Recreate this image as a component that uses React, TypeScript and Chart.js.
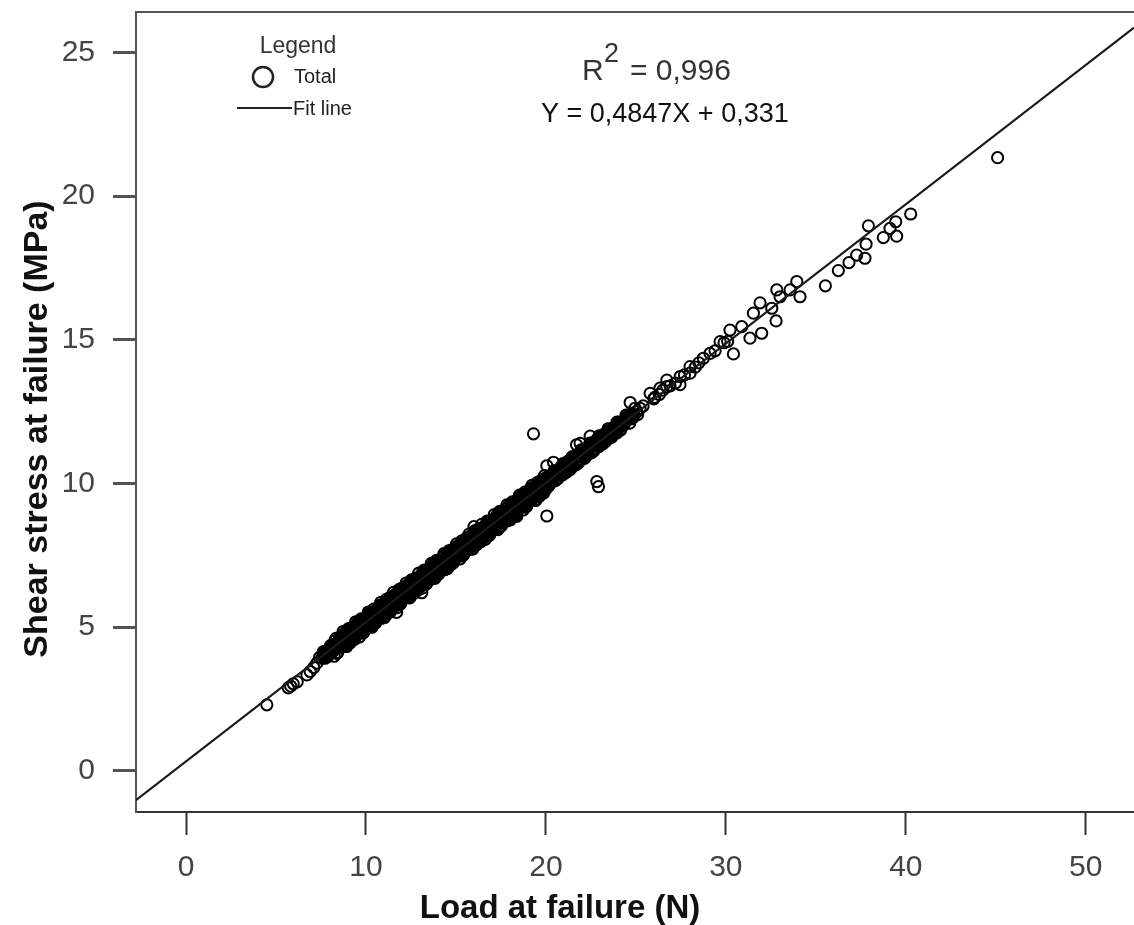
import React, { useEffect, useRef } from "react";
import { Chart, registerables } from "chart.js";

Chart.register(...registerables);

// ---- data ----
const xTicks = [0, 10, 20, 30, 40, 50];
const yTicks = [0, 5, 10, 15, 20, 25];
const xRange = [-2.78, 52.68];
const yRange = [-1.43, 26.41];

// fit line end points (Y = 0,4847X + 0,331)
const fitLoad = [-2.78, 52.68];
const fitStress = [-1.017, 25.865];

const xAxisTitle = "Load at failure (N)";
const yAxisTitle = "Shear stress at failure (MPa)";
const legendTitle = "Legend";
const legendLabels = ["Total", "Fit line"];
const rSquaredValue = "= 0,996";
const equationText = "Y = 0,4847X + 0,331";

// observed points: [load (N), shear stress (MPa)]
const totalPoints: [number, number][] = [
  [4.49, 2.3], [5.68, 2.89], [5.82, 2.95], [5.96, 3.03], [6.18, 3.1],
  [6.72, 3.34], [6.9, 3.46], [7.1, 3.6], [7.27, 3.75],
  [7.42, 3.95], [7.55, 3.92], [7.68, 4.08], [7.75, 4.0], [7.85, 4.05], [7.92, 4.2],
  [8.02, 4.17], [8.08, 4.3], [8.15, 4.15], [8.22, 4.4], [8.28, 4.24], [8.35, 4.33],
  [8.42, 4.31], [8.48, 4.5], [8.55, 4.43], [8.62, 4.58], [8.68, 4.42], [8.75, 4.52],
  [8.82, 4.7], [8.88, 4.55], [8.95, 4.63], [9.02, 4.62], [9.08, 4.8], [9.15, 4.7],
  [9.22, 4.88], [9.28, 4.72], [9.35, 4.83], [9.42, 4.78], [9.48, 4.98], [9.55, 4.9],
  [9.62, 5.07], [9.68, 4.9], [9.75, 5.02], [9.82, 4.98], [9.88, 5.18], [9.95, 5.1],
  [10.02, 5.26], [10.08, 5.08], [10.15, 5.2], [10.22, 5.17], [10.28, 5.36], [10.35, 5.29],
  [10.42, 5.46], [10.48, 5.28], [10.55, 5.4], [10.62, 5.36], [10.68, 5.56], [10.75, 5.48],
  [10.82, 5.65], [10.88, 5.47], [10.95, 5.6], [11.02, 5.56], [11.08, 5.76], [11.15, 5.68],
  [11.22, 5.85], [11.28, 5.66], [11.35, 5.8], [11.42, 5.75], [11.48, 5.95], [11.55, 5.88],
  [11.62, 6.04], [11.68, 5.86], [11.7, 5.52], [11.75, 5.99], [11.82, 5.95], [11.88, 6.15],
  [11.95, 6.07], [12.02, 6.24], [12.08, 6.05], [12.15, 6.18], [12.22, 6.14], [12.28, 6.34],
  [12.35, 6.27], [12.42, 6.43], [12.48, 6.25], [12.55, 6.38], [12.62, 6.33], [12.68, 6.53],
  [12.75, 6.46], [12.82, 6.62], [12.88, 6.44], [12.95, 6.57], [13.1, 6.2],
  [13.02, 6.53], [13.08, 6.73], [13.15, 6.66], [13.22, 6.82], [13.28, 6.63], [13.35, 6.76],
  [13.42, 6.72], [13.48, 6.93], [13.55, 6.85], [13.62, 7.02], [13.68, 6.83], [13.75, 6.96],
  [13.82, 6.92], [13.88, 7.12], [13.95, 7.04], [14.02, 7.21], [14.08, 7.02], [14.15, 7.15],
  [14.22, 7.11], [14.28, 7.31], [14.35, 7.24], [14.42, 7.4], [14.48, 7.22], [14.55, 7.34],
  [14.62, 7.3], [14.68, 7.5], [14.75, 7.43], [14.82, 7.59], [14.88, 7.41], [14.95, 7.54],
  [15.02, 7.5], [15.08, 7.7], [15.15, 7.63], [15.22, 7.79], [15.28, 7.6], [15.35, 7.73],
  [15.42, 7.69], [15.48, 7.9], [15.55, 7.82], [15.62, 7.98], [15.68, 7.8], [15.75, 7.93],
  [15.82, 7.89], [15.88, 8.09], [15.95, 8.01], [16.0, 8.5], [16.02, 8.17], [16.1, 7.98],
  [16.22, 8.28], [16.3, 8.1], [16.42, 8.2], [16.5, 8.38], [16.62, 8.46], [16.7, 8.3],
  [16.82, 8.4], [16.9, 8.57], [17.02, 8.66], [17.1, 8.5], [17.22, 8.6], [17.3, 8.77],
  [17.42, 8.85], [17.5, 8.69], [17.62, 8.8], [17.7, 8.96], [17.82, 9.05], [17.9, 8.88],
  [18.02, 8.98], [18.1, 9.16], [18.22, 9.25], [18.3, 9.09], [18.38, 8.86], [18.42, 9.18],
  [18.5, 9.35], [18.62, 9.44], [18.7, 9.28], [18.82, 9.38], [18.9, 9.54], [19.02, 9.63],
  [19.1, 9.48], [19.22, 9.58], [19.3, 9.74], [19.31, 11.73], [19.42, 9.82], [19.5, 9.67],
  [19.62, 9.76], [19.7, 9.93], [19.82, 10.02], [19.9, 9.86], [20.02, 9.95], [20.05, 8.87],
  [20.05, 10.62], [20.1, 10.12], [20.22, 10.22], [20.3, 10.05], [20.42, 10.74], [20.5, 10.3],
  [20.62, 10.25], [20.7, 10.4], [20.85, 10.5], [20.9, 10.35], [21.05, 10.45], [21.1, 10.6],
  [21.25, 10.68], [21.3, 10.55], [21.45, 10.78], [21.5, 10.64], [21.65, 10.75], [21.7, 11.35],
  [21.85, 10.95], [21.9, 11.4], [21.9, 10.82], [22.05, 11.08], [22.1, 10.92], [22.25, 11.15],
  [22.3, 11.02], [22.45, 11.26], [22.46, 11.65], [22.65, 11.35], [22.7, 11.22], [22.83, 10.07],
  [22.85, 11.45], [22.92, 9.89], [23.05, 11.42], [23.1, 11.56], [23.25, 11.64], [23.45, 11.62],
  [23.5, 11.75], [23.65, 11.84], [23.85, 11.8], [23.9, 11.95], [24.05, 12.04], [24.25, 12.0],
  [24.3, 12.14], [24.45, 12.22], [24.6, 12.28], [24.68, 12.82], [24.85, 12.4], [25.05, 12.5],
  [25.1, 12.4], [25.4, 12.7], [25.79, 13.14], [26.0, 12.95], [26.05, 13.0], [26.3, 13.1],
  [26.34, 13.32], [26.5, 13.25], [26.72, 13.37], [26.72, 13.6], [26.9, 13.4], [27.2, 13.5],
  [27.45, 13.44], [27.46, 13.72], [27.7, 13.78], [28.01, 14.07], [28.01, 13.84], [28.3, 14.05],
  [28.5, 14.2], [28.75, 14.36], [29.12, 14.53], [29.4, 14.62], [29.68, 14.94], [29.9, 14.9],
  [30.1, 14.95], [30.23, 15.34], [30.42, 14.51], [30.88, 15.46], [31.34, 15.06], [31.53, 15.93],
  [31.9, 16.29], [31.99, 15.23], [32.55, 16.1], [32.79, 15.66], [32.83, 16.74], [33.01, 16.5],
  [33.57, 16.74], [33.94, 17.03], [34.12, 16.5], [35.53, 16.88], [36.25, 17.41], [36.84, 17.69],
  [37.27, 17.95], [37.73, 17.84], [37.79, 18.33], [37.92, 18.97], [38.75, 18.56], [39.12, 18.88],
  [39.44, 19.11], [39.49, 18.61], [40.27, 19.38], [45.1, 21.34],
];

// the dense part of the cloud (7.6 N – 25 N)
const densePoints: [number, number][] = [
  [7.63, 4.15], [7.67, 3.94], [7.73, 3.92], [7.77, 4.17], [7.83, 4.18], [7.87, 3.98],
  [7.93, 4.06], [7.97, 4.2], [8.03, 4.36], [8.07, 4.3], [8.13, 4.21], [8.17, 4.18],
  [8.23, 3.99], [8.27, 4.53], [8.33, 4.61], [8.37, 4.09], [8.43, 4.12], [8.47, 4.48],
  [8.53, 4.59], [8.57, 4.63], [8.63, 4.3], [8.67, 4.34], [8.73, 4.85], [8.77, 4.77],
  [8.83, 4.5], [8.87, 4.34], [8.93, 4.33], [8.97, 4.73], [9.03, 4.95], [9.07, 4.87],
  [9.13, 4.46], [9.17, 4.58], [9.23, 4.93], [9.27, 5.01], [9.33, 4.64], [9.37, 4.58],
  [9.43, 5.19], [9.47, 4.97], [9.53, 4.84], [9.57, 5.12], [9.63, 4.66], [9.67, 4.82],
  [9.73, 5.29], [9.77, 5.25], [9.83, 4.8], [9.87, 4.82], [9.93, 5.27], [9.97, 5.21],
  [10.03, 4.98], [10.07, 5.36], [10.13, 5.53], [10.17, 5.07], [10.23, 5.18], [10.27, 5.5],
  [10.33, 5.0], [10.37, 5.06], [10.43, 5.63], [10.47, 5.45], [10.53, 5.14], [10.57, 5.6],
  [10.63, 5.61], [10.67, 5.31], [10.73, 5.32], [10.77, 5.74], [10.83, 5.87], [10.87, 5.31],
  [10.93, 5.51], [10.97, 5.69], [11.03, 5.34], [11.07, 5.84], [11.13, 5.97], [11.17, 5.55],
  [11.23, 5.48], [11.27, 5.98], [11.33, 5.95], [11.37, 5.55], [11.43, 5.66], [11.47, 5.94],
  [11.53, 6.21], [11.57, 6.09], [11.63, 5.85], [11.67, 5.79], [11.73, 5.68], [11.77, 6.22],
  [11.83, 6.31], [11.87, 5.79], [11.93, 5.82], [11.97, 6.18], [12.03, 6.29], [12.07, 6.33],
  [12.13, 6.0], [12.17, 6.04], [12.23, 6.54], [12.27, 6.46], [12.33, 6.19], [12.37, 6.03],
  [12.43, 6.02], [12.47, 6.42], [12.53, 6.65], [12.57, 6.57], [12.63, 6.16], [12.67, 6.28],
  [12.73, 6.63], [12.77, 6.71], [12.83, 6.34], [12.87, 6.28], [12.93, 6.88], [12.97, 6.66],
  [13.03, 6.53], [13.07, 6.81], [13.13, 6.36], [13.17, 6.52], [13.23, 6.99], [13.27, 6.95],
  [13.33, 6.5], [13.37, 6.52], [13.43, 6.97], [13.47, 6.91], [13.53, 6.67], [13.57, 7.05],
  [13.63, 7.22], [13.67, 6.76], [13.73, 6.87], [13.77, 7.19], [13.83, 6.7], [13.87, 6.76],
  [13.93, 7.33], [13.97, 7.15], [14.03, 6.84], [14.07, 7.3], [14.13, 7.31], [14.17, 7.01],
  [14.23, 7.01], [14.27, 7.43], [14.33, 7.56], [14.37, 7.0], [14.43, 7.21], [14.47, 7.39],
  [14.53, 7.04], [14.57, 7.54], [14.63, 7.67], [14.67, 7.25], [14.73, 7.18], [14.77, 7.68],
  [14.83, 7.65], [14.87, 7.25], [14.93, 7.35], [14.97, 7.63], [15.03, 7.9], [15.07, 7.78],
  [15.13, 7.55], [15.17, 7.49], [15.23, 7.38], [15.27, 7.92], [15.33, 8.01], [15.37, 7.49],
  [15.43, 7.52], [15.47, 7.88], [15.53, 7.98], [15.57, 8.02], [15.63, 7.69], [15.67, 7.73],
  [15.73, 8.24], [15.77, 8.16], [15.83, 7.89], [15.87, 7.73], [15.93, 7.72], [15.97, 8.12],
  [16.03, 8.35], [16.07, 8.27], [16.13, 7.86], [16.17, 7.98], [16.23, 8.32], [16.27, 8.4],
  [16.33, 8.03], [16.37, 7.97], [16.43, 8.58], [16.47, 8.36], [16.53, 8.23], [16.57, 8.51],
  [16.63, 8.06], [16.67, 8.22], [16.73, 8.69], [16.77, 8.65], [16.83, 8.19], [16.87, 8.21],
  [16.93, 8.66], [16.97, 8.6], [17.03, 8.37], [17.07, 8.75], [17.13, 8.92], [17.17, 8.46],
  [17.23, 8.57], [17.27, 8.89], [17.33, 8.4], [17.37, 8.46], [17.43, 9.03], [17.47, 8.85],
  [17.53, 8.53], [17.57, 8.99], [17.63, 9.0], [17.67, 8.7], [17.73, 8.71], [17.77, 9.13],
  [17.83, 9.26], [17.87, 8.7], [17.93, 8.91], [17.97, 9.09], [18.03, 8.74], [18.07, 9.24],
  [18.13, 9.36], [18.17, 8.94], [18.23, 8.87], [18.27, 9.37], [18.33, 9.34], [18.37, 8.94],
  [18.43, 9.05], [18.47, 9.33], [18.53, 9.6], [18.57, 9.48], [18.63, 9.25], [18.67, 9.19],
  [18.73, 9.08], [18.77, 9.62], [18.83, 9.7], [18.87, 9.18], [18.93, 9.21], [18.97, 9.57],
  [19.03, 9.68], [19.07, 9.72], [19.13, 9.39], [19.17, 9.43], [19.23, 9.94], [19.27, 9.86],
  [19.33, 9.59], [19.37, 9.43], [19.43, 9.41], [19.47, 9.81], [19.53, 10.04], [19.57, 9.96],
  [19.63, 9.55], [19.67, 9.67], [19.73, 10.02], [19.77, 10.1], [19.83, 9.73], [19.87, 9.67],
  [19.93, 10.28], [19.97, 10.06],
  [20.03, 10.2], [20.13, 9.9], [20.23, 9.98], [20.33, 10.3], [20.43, 10.38], [20.53, 10.1],
  [20.63, 10.17], [20.73, 10.48], [20.83, 10.58], [20.93, 10.3], [21.03, 10.36], [21.13, 10.66],
  [21.23, 10.78], [21.33, 10.48], [21.43, 10.55], [21.53, 10.86], [21.63, 10.97], [21.73, 10.68],
  [21.83, 10.74], [21.93, 11.05], [22.03, 11.16], [22.13, 10.88], [22.23, 10.95], [22.33, 11.25],
  [22.43, 11.35], [22.53, 11.07], [22.63, 11.14], [22.73, 11.43], [22.83, 11.54], [22.93, 11.28],
  [23.03, 11.35], [23.13, 11.62], [23.23, 11.72], [23.33, 11.47], [23.43, 11.8], [23.63, 11.66],
  [23.73, 11.92], [23.93, 11.76], [24.03, 12.1], [24.13, 11.88], [24.33, 12.06], [24.53, 12.3],
  [24.73, 12.25], [25.23, 12.62],
];

// the core of the cloud (8.5 N – 25 N)
const corePoints: [number, number][] = [
  [8.55, 4.65], [8.59, 4.43], [8.65, 4.45], [8.69, 4.6], [8.75, 4.33], [8.79, 4.37],
  [8.85, 4.66], [8.89, 4.76], [8.95, 4.89], [8.99, 4.63], [9.05, 4.55], [9.09, 4.79],
  [9.15, 4.94], [9.19, 4.56], [9.25, 4.74], [9.29, 4.95], [9.35, 4.62], [9.39, 4.82],
  [9.45, 4.95], [9.49, 4.99], [9.55, 5.18], [9.59, 4.76], [9.65, 4.84], [9.69, 5.14],
  [9.75, 5.23], [9.79, 5.01], [9.85, 5.03], [9.89, 5.18], [9.95, 4.91], [9.99, 4.95],
  [10.05, 5.24], [10.09, 5.34], [10.15, 5.47], [10.19, 5.21], [10.25, 5.14], [10.29, 5.38],
  [10.35, 5.52], [10.39, 5.14], [10.45, 5.32], [10.49, 5.53], [10.55, 5.2], [10.59, 5.4],
  [10.65, 5.53], [10.69, 5.57], [10.75, 5.76], [10.79, 5.34], [10.85, 5.43], [10.89, 5.73],
  [10.95, 5.81], [10.99, 5.59], [11.05, 5.61], [11.09, 5.76], [11.15, 5.49], [11.19, 5.53],
  [11.25, 5.82], [11.29, 5.92], [11.35, 6.05], [11.39, 5.79], [11.45, 5.72], [11.49, 5.96],
  [11.55, 6.11], [11.59, 5.73], [11.65, 5.9], [11.69, 6.11], [11.75, 5.78], [11.79, 5.98],
  [11.85, 6.11], [11.89, 6.15], [11.95, 6.34], [11.99, 5.92], [12.05, 6.01], [12.09, 6.31],
  [12.15, 6.4], [12.19, 6.18], [12.25, 6.19], [12.29, 6.34], [12.35, 6.07], [12.39, 6.11],
  [12.45, 6.4], [12.49, 6.5], [12.55, 6.63], [12.59, 6.37], [12.65, 6.3], [12.69, 6.54],
  [12.75, 6.69], [12.79, 6.31], [12.85, 6.49], [12.89, 6.7], [12.95, 6.36], [12.99, 6.56],
  [13.05, 6.69], [13.09, 6.73], [13.15, 6.92], [13.19, 6.5], [13.25, 6.59], [13.29, 6.89],
  [13.35, 6.98], [13.39, 6.76], [13.45, 6.78], [13.49, 6.93], [13.55, 6.65], [13.59, 6.69],
  [13.65, 6.98], [13.69, 7.08], [13.75, 7.21], [13.79, 6.95], [13.85, 6.88], [13.89, 7.12],
  [13.95, 7.27], [13.99, 6.89], [14.05, 7.07], [14.09, 7.28], [14.15, 6.95], [14.19, 7.15],
  [14.25, 7.27], [14.29, 7.31], [14.35, 7.5], [14.39, 7.08], [14.45, 7.17], [14.49, 7.47],
  [14.55, 7.56], [14.59, 7.34], [14.65, 7.36], [14.69, 7.51], [14.75, 7.24], [14.79, 7.28],
  [14.85, 7.57], [14.89, 7.67], [14.95, 7.79], [14.99, 7.53], [15.05, 7.46], [15.09, 7.7],
  [15.15, 7.85], [15.19, 7.47], [15.25, 7.65], [15.29, 7.86], [15.35, 7.53], [15.39, 7.73],
  [15.45, 7.86], [15.49, 7.9], [15.55, 8.08], [15.59, 7.66], [15.65, 7.75], [15.69, 8.05],
  [15.75, 8.14], [15.79, 7.92], [15.85, 7.94], [15.89, 8.09], [15.95, 7.82], [15.99, 7.86],
  [16.05, 8.15], [16.09, 8.25], [16.15, 8.38], [16.19, 8.12], [16.25, 8.04], [16.29, 8.28],
  [16.35, 8.43], [16.39, 8.05], [16.45, 8.23], [16.49, 8.44], [16.55, 8.11], [16.59, 8.31],
  [16.65, 8.44], [16.69, 8.48], [16.75, 8.67], [16.79, 8.25], [16.85, 8.33], [16.89, 8.63],
  [16.95, 8.72], [16.99, 8.5], [17.05, 8.52], [17.09, 8.67], [17.15, 8.4], [17.19, 8.44],
  [17.25, 8.73], [17.29, 8.83], [17.35, 8.96], [17.39, 8.7], [17.45, 8.63], [17.49, 8.87],
  [17.55, 9.01], [17.59, 8.63], [17.65, 8.81], [17.69, 9.02], [17.75, 8.69], [17.79, 8.89],
  [17.85, 9.02], [17.89, 9.06], [17.95, 9.25], [17.99, 8.83], [18.05, 8.92], [18.09, 9.22],
  [18.15, 9.3], [18.19, 9.08], [18.25, 9.1], [18.29, 9.25], [18.35, 8.98], [18.39, 9.02],
  [18.45, 9.31], [18.49, 9.41], [18.55, 9.54], [18.59, 9.28], [18.65, 9.21], [18.69, 9.45],
  [18.75, 9.6], [18.79, 9.22], [18.85, 9.39], [18.89, 9.6], [18.95, 9.27], [18.99, 9.47],
  [19.05, 9.6], [19.09, 9.64], [19.15, 9.83], [19.19, 9.41], [19.25, 9.5], [19.29, 9.8],
  [19.35, 9.89], [19.39, 9.67], [19.45, 9.68], [19.49, 9.83], [19.55, 9.56], [19.59, 9.6],
  [19.65, 9.89], [19.69, 9.99], [19.75, 10.12], [19.79, 9.86], [19.85, 9.79], [19.89, 10.03],
  [19.95, 10.18], [19.99, 9.8],
  [20.05, 10.2], [20.15, 9.92], [20.25, 10.2], [20.35, 10.12], [20.45, 10.44], [20.55, 10.44],
  [20.65, 10.16], [20.75, 10.44], [20.85, 10.36], [20.95, 10.69], [21.05, 10.68], [21.15, 10.4],
  [21.25, 10.68], [21.35, 10.6], [21.45, 10.93], [21.55, 10.93], [21.65, 10.65], [21.75, 10.92],
  [21.85, 10.84], [21.95, 11.17], [22.05, 11.17], [22.15, 10.89], [22.25, 11.17], [22.35, 11.08],
  [22.45, 11.41], [22.55, 11.41], [22.65, 11.13], [22.75, 11.41], [22.85, 11.33], [22.95, 11.66],
  [23.05, 11.65], [23.15, 11.37], [23.25, 11.65], [23.35, 11.57], [23.45, 11.9], [23.55, 11.9],
  [23.65, 11.61], [23.75, 11.89], [23.85, 11.81], [23.95, 12.14], [24.05, 12.14], [24.15, 11.86],
  [24.25, 12.14], [24.35, 12.05], [24.45, 12.38], [24.55, 12.38], [24.65, 12.1], [24.75, 12.38],
  [24.85, 12.3], [24.95, 12.62],
];

const FONT = "'Liberation Sans', Arial, sans-serif";

const decorPlugin = {
  id: "decor",
  afterDraw(chart: any) {
    const ctx: CanvasRenderingContext2D = chart.ctx;
    const a = chart.chartArea;
    ctx.save();
    // top frame line
    ctx.strokeStyle = "#555";
    ctx.lineWidth = 2;
    ctx.beginPath();
    ctx.moveTo(a.left - 1, a.top);
    ctx.lineTo(a.right, a.top);
    ctx.stroke();

    // axis titles
    ctx.fillStyle = "#111";
    ctx.font = `bold 33px ${FONT}`;
    ctx.textAlign = "center";
    ctx.textBaseline = "alphabetic";
    ctx.fillText(xAxisTitle, 560, 918);
    ctx.save();
    ctx.translate(47, 429);
    ctx.rotate(-Math.PI / 2);
    ctx.font = `bold 34px ${FONT}`;
    ctx.fillText(yAxisTitle, 0, 0);
    ctx.restore();

    // legend
    ctx.fillStyle = "#333";
    ctx.font = `23px ${FONT}`;
    ctx.textAlign = "center";
    ctx.fillText(legendTitle, 298, 53);
    ctx.strokeStyle = "#222";
    ctx.lineWidth = 2.5;
    ctx.beginPath();
    ctx.arc(263, 77, 10, 0, Math.PI * 2);
    ctx.stroke();
    ctx.font = `20px ${FONT}`;
    ctx.textAlign = "left";
    ctx.fillStyle = "#222";
    ctx.fillText(legendLabels[0], 294, 83);
    ctx.lineWidth = 2;
    ctx.beginPath();
    ctx.moveTo(237, 108);
    ctx.lineTo(292, 108);
    ctx.stroke();
    ctx.fillText(legendLabels[1], 293, 115);

    // annotation
    ctx.fillStyle = "#333";
    ctx.font = `30px ${FONT}`;
    ctx.fillText("R", 582, 80);
    ctx.font = `27px ${FONT}`;
    ctx.fillText("2", 604, 62);
    ctx.font = `30px ${FONT}`;
    ctx.fillText(rSquaredValue, 630, 80);
    ctx.fillStyle = "#111";
    ctx.font = `27px ${FONT}`;
    ctx.fillText(equationText, 541, 122);
    ctx.restore();
  },
};

export default function App() {
  const ref = useRef<HTMLCanvasElement | null>(null);
  useEffect(() => {
    if (!ref.current) return;
    const chart = new Chart(ref.current, {
      type: "scatter",
      data: {
        datasets: [
          {
            type: "line",
            label: "Fit line",
            data: fitLoad.map((x, i) => ({ x, y: fitStress[i] })),
            borderColor: "#1a1a1a",
            borderWidth: 2,
            pointRadius: 0,
            fill: false,
            order: 0,
          } as any,
          {
            label: "Total",
            data: totalPoints
              .concat(densePoints, corePoints)
              .map(([x, y]) => ({ x, y })),
            pointStyle: "circle",
            pointRadius: 5.6,
            pointBorderWidth: 2,
            borderColor: "#000",
            backgroundColor: "rgba(0,0,0,0)",
            order: 1,
          },
        ],
      },
      options: {
        responsive: false,
        animation: false,
        devicePixelRatio: 1,
        layout: { autoPadding: false, padding: { top: 12, left: 0, right: 0, bottom: 0 } },
        plugins: { legend: { display: false }, tooltip: { enabled: false } },
        scales: {
          x: {
            type: "linear",
            min: xRange[0],
            max: xRange[1],
            afterBuildTicks: (s: any) => {
              s.ticks = xTicks.map((v) => ({ value: v }));
            },
            afterFit: (s: any) => {
              s.height = 113;
              s.paddingLeft = 0;
              s.paddingRight = 0;
            },
            ticks: {
              font: { family: FONT, size: 30 },
              color: "#444",
              padding: 15,
              maxRotation: 0,
              autoSkip: false,
            },
            grid: {
              drawOnChartArea: false,
              drawTicks: true,
              tickLength: 23,
              tickWidth: 2,
              tickColor: "#333",
            },
            border: { display: true, color: "#333", width: 2 },
          },
          y: {
            type: "linear",
            min: yRange[0],
            max: yRange[1],
            afterBuildTicks: (s: any) => {
              s.ticks = yTicks.map((v) => ({ value: v }));
            },
            afterFit: (s: any) => {
              s.width = 136;
              s.paddingTop = 0;
              s.paddingBottom = 0;
            },
            ticks: {
              font: { family: FONT, size: 30 },
              color: "#444",
              padding: 18,
              autoSkip: false,
            },
            grid: {
              drawOnChartArea: false,
              drawTicks: true,
              tickLength: 23,
              tickWidth: 3,
              tickColor: "#555",
            },
            border: { display: true, color: "#555", width: 2 },
          },
        },
      },
      plugins: [decorPlugin],
    });
    return () => chart.destroy();
  }, []);
  return (
    <div style={{ position: "fixed", left: 0, top: 0, width: 1134, height: 925, background: "#fff" }}>
      <canvas ref={ref} width={1134} height={925} style={{ display: "block" }} />
    </div>
  );
}
